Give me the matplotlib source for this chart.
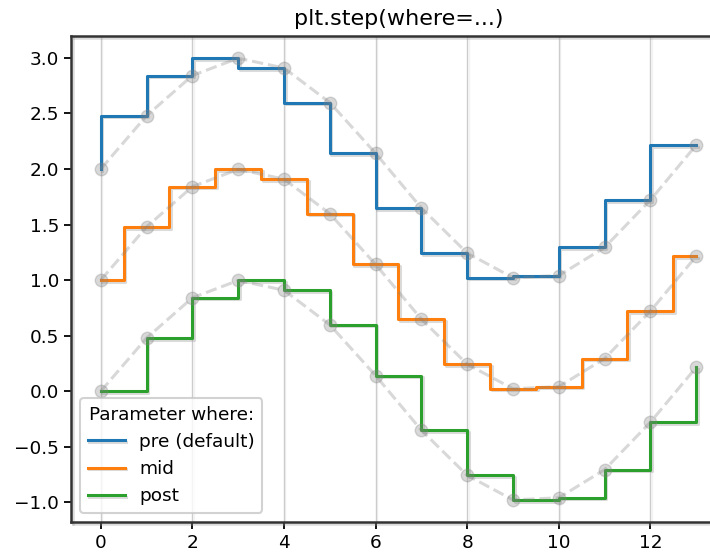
import numpy as np
import matplotlib.pyplot as plt
import matplotlib.patheffects as pe

x = np.arange(14)
y = [0.0, 0.479, 0.841, 0.997, 0.909, 0.598, 0.141,
     -0.351, -0.757, -0.978, -0.959, -0.706, -0.279, 0.215]
offsets = [2, 1, 0]
wheres = ['pre', 'mid', 'post']
labels = ['pre (default)', 'mid', 'post']

shadow = [pe.SimpleLineShadow(offset=(1.2, -1.2), shadow_color='0.6', alpha=0.35),
          pe.Normal()]

fig = plt.figure(figsize=(7.1, 5.54), dpi=100)
ax = fig.add_axes([0.1, 0.0578, 0.9225, 0.877])

for off, wh, lab in zip(offsets, wheres, labels):
    yy = np.array(y) + off
    ax.step(x, yy, where=wh, label=lab, lw=2.2, path_effects=shadow)
    ax.plot(x, yy, 'o--', color='grey', alpha=0.3, lw=2.2, ms=9)

ax.grid(axis='x', color='0.8', lw=1.0,
        path_effects=[pe.SimpleLineShadow(offset=(1, -1), shadow_color='0.85', alpha=0.3),
                      pe.Normal()])
leg = ax.legend(title='Parameter where:', loc='lower left', fontsize=13.3,
                title_fontsize=13.3)
leg.get_frame().set_linewidth(1.5)
leg.get_frame().set_edgecolor('0.78')
ax.set_title('plt.step(where=...)', fontsize=16, pad=8)
ax.tick_params(labelsize=13.3, length=5, width=1.3)
for s in ['left', 'bottom', 'top']:
    ax.spines[s].set_linewidth(1.8)
    ax.spines[s].set_color('0.2')
    ax.spines[s].set_path_effects(shadow)
ax.spines['right'].set_visible(False)

fig.savefig('out.png')
